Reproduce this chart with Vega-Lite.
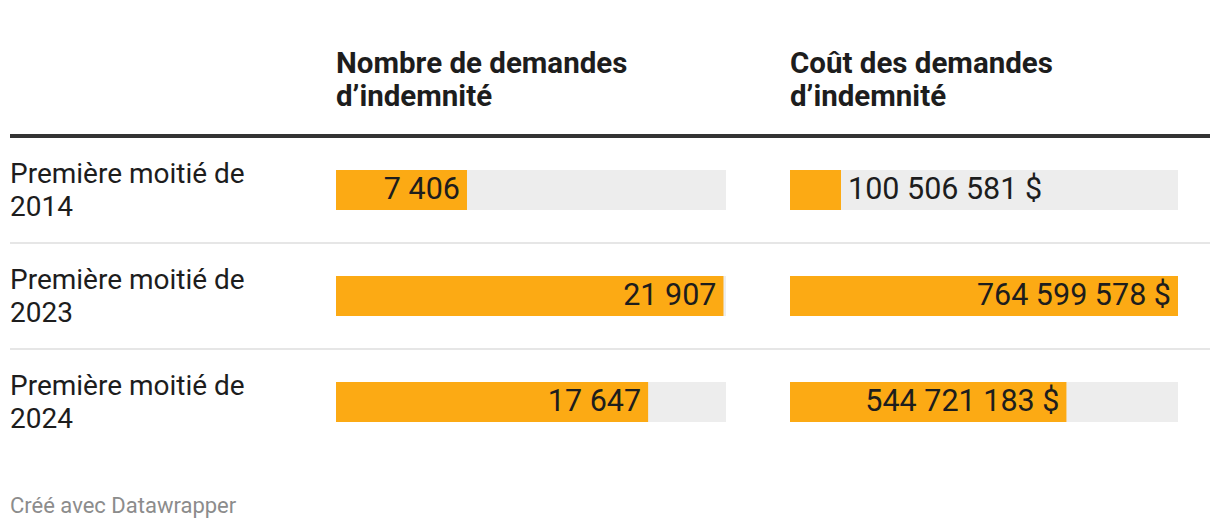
{
  "$schema": "https://vega.github.io/schema/vega-lite/v6.json",
  "padding": {"left": 8, "top": 48, "right": 10, "bottom": 5},
  "autosize": {"type": "pad"},
  "background": "#ffffff",
  "bounds": "flush",
  "spacing": 0,
  "config": {
    "view": {"stroke": null},
    "font": "Roboto",
    "locale": {
      "number": {"decimal": ",", "thousands": " ", "grouping": [3], "currency": ["", " $"]}
    }
  },
  "title": {
    "text": "Créé avec Datawrapper",
    "orient": "bottom",
    "anchor": "start",
    "font": "Roboto",
    "fontSize": 22,
    "fontWeight": "normal",
    "color": "#8c8c8c",
    "baseline": "alphabetic",
    "offset": 58,
    "dx": 2
  },
  "data": {
    "values": [
      {"periode": "Première moitié de\n2014", "nombre": 7406, "cout": 100506581},
      {"periode": "Première moitié de\n2023", "nombre": 21907, "cout": 764599578},
      {"periode": "Première moitié de\n2024", "nombre": 17647, "cout": 544721183}
    ]
  },
  "hconcat": [
    {
      "width": 326,
      "height": 318,
      "encoding": {
        "y": {
          "field": "periode", "type": "nominal", "sort": null, "axis": null,
          "scale": {"domain": ["Première moitié de\n2014", "Première moitié de\n2023", "Première moitié de\n2024"], "paddingInner": 0, "paddingOuter": 0}
        }
      },
      "layer": [
        {
          "transform": [{"filter": {"field": "periode", "equal": "Première moitié de\n2014"}}],
          "mark": {"type": "rule", "strokeWidth": 4, "color": "#333333", "yOffset": -1},
          "encoding": {"y": {"field": "periode", "type": "nominal", "bandPosition": 0}}
        },
        {
          "transform": [{"filter": {"not": {"field": "periode", "equal": "Première moitié de\n2014"}}}],
          "mark": {"type": "rule", "strokeWidth": 2, "color": "#e6e6e6"},
          "encoding": {"y": {"field": "periode", "type": "nominal", "bandPosition": 0}}
        },
        {
          "mark": {"type": "text", "align": "left", "baseline": "middle", "dy": -15, "fontSize": 28, "lineHeight": 33, "lineBreak": "\n", "color": "#1d1d1d", "font": "Roboto"},
          "encoding": {"x": {"value": 0}, "text": {"field": "periode", "type": "nominal"}}
        }
      ]
    },
    {
      "width": 454,
      "height": 318,
      "title": {
        "text": ["Nombre de demandes", "d’indemnité"],
        "anchor": "start", "font": "Roboto", "fontSize": 29.5, "fontWeight": "bold",
        "color": "#1d1d1d", "lineHeight": 33, "baseline": "alphabetic", "offset": -1, "dx": 2
      },
      "encoding": {
        "y": {
          "field": "periode", "type": "nominal", "sort": null, "axis": null,
          "scale": {"domain": ["Première moitié de\n2014", "Première moitié de\n2023", "Première moitié de\n2024"], "paddingInner": 0, "paddingOuter": 0}
        }
      },
      "layer": [
        {
          "mark": {"type": "bar", "height": 40, "color": "#ededed"},
          "encoding": {"x": {"datum": 22050, "type": "quantitative", "axis": null, "scale": {"domain": [0, 22050], "range": [0, 390], "nice": false, "zero": true}}}
        },
        {
          "mark": {"type": "bar", "height": 40, "color": "#fcaa14"},
          "encoding": {"x": {"field": "nombre", "type": "quantitative"}}
        },
        {
          "mark": {"type": "text", "align": "right", "baseline": "middle", "dx": -7, "fontSize": 30.5, "color": "#1d1d1d", "font": "Roboto"},
          "encoding": {
            "x": {"field": "nombre", "type": "quantitative"},
            "text": {"field": "nombre", "type": "quantitative", "format": ",d"}
          }
        },
        {
          "transform": [{"filter": {"field": "periode", "equal": "Première moitié de\n2014"}}],
          "mark": {"type": "rule", "strokeWidth": 4, "color": "#333333", "yOffset": -1},
          "encoding": {"y": {"field": "periode", "type": "nominal", "bandPosition": 0}}
        },
        {
          "transform": [{"filter": {"not": {"field": "periode", "equal": "Première moitié de\n2014"}}}],
          "mark": {"type": "rule", "strokeWidth": 2, "color": "#e6e6e6"},
          "encoding": {"y": {"field": "periode", "type": "nominal", "bandPosition": 0}}
        }
      ]
    },
    {
      "width": 420,
      "height": 318,
      "title": {
        "text": ["Coût des demandes", "d’indemnité"],
        "anchor": "start", "font": "Roboto", "fontSize": 29.5, "fontWeight": "bold",
        "color": "#1d1d1d", "lineHeight": 33, "baseline": "alphabetic", "offset": -1, "dx": 2
      },
      "encoding": {
        "y": {
          "field": "periode", "type": "nominal", "sort": null, "axis": null,
          "scale": {"domain": ["Première moitié de\n2014", "Première moitié de\n2023", "Première moitié de\n2024"], "paddingInner": 0, "paddingOuter": 0}
        }
      },
      "layer": [
        {
          "mark": {"type": "bar", "height": 40, "color": "#ededed"},
          "encoding": {"x": {"datum": 764599578, "type": "quantitative", "axis": null, "scale": {"domain": [0, 764599578], "range": [0, 388], "nice": false, "zero": true}}}
        },
        {
          "mark": {"type": "bar", "height": 40, "color": "#fcaa14"},
          "encoding": {"x": {"field": "cout", "type": "quantitative"}}
        },
        {
          "transform": [{"filter": "datum.cout >= 300000000"}],
          "mark": {"type": "text", "align": "right", "baseline": "middle", "dx": -7, "fontSize": 30.5, "color": "#1d1d1d", "font": "Roboto"},
          "encoding": {
            "x": {"field": "cout", "type": "quantitative"},
            "text": {"field": "cout", "type": "quantitative", "format": "$,d"}
          }
        },
        {
          "transform": [{"filter": "datum.cout < 300000000"}],
          "mark": {"type": "text", "align": "left", "baseline": "middle", "dx": 7, "fontSize": 30.5, "color": "#1d1d1d", "font": "Roboto"},
          "encoding": {
            "x": {"field": "cout", "type": "quantitative"},
            "text": {"field": "cout", "type": "quantitative", "format": "$,d"}
          }
        },
        {
          "transform": [{"filter": {"field": "periode", "equal": "Première moitié de\n2014"}}],
          "mark": {"type": "rule", "strokeWidth": 4, "color": "#333333", "yOffset": -1},
          "encoding": {"y": {"field": "periode", "type": "nominal", "bandPosition": 0}}
        },
        {
          "transform": [{"filter": {"not": {"field": "periode", "equal": "Première moitié de\n2014"}}}],
          "mark": {"type": "rule", "strokeWidth": 2, "color": "#e6e6e6"},
          "encoding": {"y": {"field": "periode", "type": "nominal", "bandPosition": 0}}
        }
      ]
    }
  ]
}
